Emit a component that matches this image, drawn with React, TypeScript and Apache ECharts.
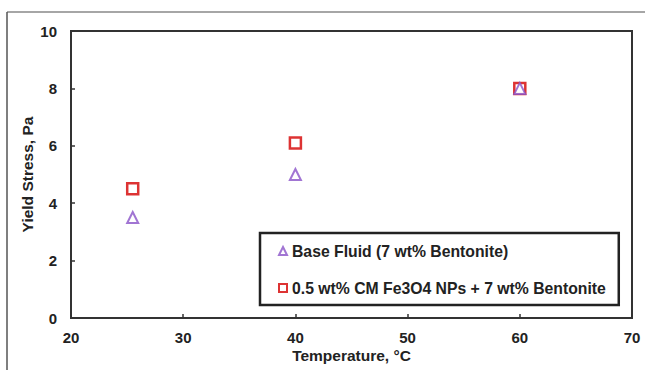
import React, { useEffect, useRef } from "react";
import * as echarts from "echarts";

const baseName = "Base Fluid (7 wt% Bentonite)";
const npName = "0.5 wt% CM Fe3O4 NPs + 7 wt% Bentonite";
const temperatures = [25.5, 40, 60];
const baseFluid = [3.5, 5.0, 8.0];
const nanoFluid = [4.5, 6.1, 8.0];

const FONT = "Liberation Sans, Arial, sans-serif";

export default function App() {
  const ref = useRef<HTMLDivElement>(null);
  useEffect(() => {
    if (!ref.current) return;
    const chart = echarts.init(ref.current, undefined, { renderer: "svg" });
    chart.setOption({
      animation: false,
      backgroundColor: "#ffffff",
      grid: {
        left: 71,
        right: 13,
        top: 31,
        bottom: 52,
        outerBoundsMode: "none",
        containLabel: false,
        show: true,
        borderColor: "#333",
        borderWidth: 2,
        backgroundColor: "transparent",
      },
      xAxis: {
        type: "value",
        min: 20,
        max: 70,
        interval: 10,
        name: "Temperature, °C",
        nameLocation: "middle",
        nameGap: 29,
        nameMoveOverlap: false,
        nameTextStyle: { fontFamily: FONT, fontWeight: "bold", fontSize: 15.5, color: "#222" },
        axisLine: { show: true, lineStyle: { color: "#333", width: 2 } },
        axisTick: { show: true, inside: true, length: 4, lineStyle: { color: "#333", width: 1.5 } },
        axisLabel: { fontFamily: FONT, fontWeight: "bold", fontSize: 15, color: "#222", margin: 12 },
        splitLine: { show: false },
      },
      yAxis: {
        type: "value",
        min: 0,
        max: 10,
        interval: 2,
        name: "Yield Stress, Pa",
        nameLocation: "middle",
        nameGap: 36,
        nameMoveOverlap: false,
        nameTextStyle: { fontFamily: FONT, fontWeight: "bold", fontSize: 15.5, color: "#222" },
        axisLine: { show: true, lineStyle: { color: "#333", width: 2 } },
        axisTick: { show: true, inside: true, length: 4, lineStyle: { color: "#333", width: 1.5 } },
        axisLabel: { fontFamily: FONT, fontWeight: "bold", fontSize: 15, color: "#222", margin: 14 },
        splitLine: { show: false },
      },
      legend: {
        orient: "vertical",
        left: 260,
        top: 233,
        data: [baseName, npName],
        itemWidth: 8,
        itemHeight: 8,
        itemGap: 21,
        padding: [10, 13, 9, 18],
        borderColor: "#222",
        borderWidth: 2.5,
        backgroundColor: "#fff",
        textStyle: { fontFamily: FONT, fontWeight: "bold", fontSize: 15.75, color: "#222" },
      },
      graphic: [
        { type: "line", shape: { x1: 7, y1: 12, x2: 645, y2: 12 }, style: { stroke: "#888", lineWidth: 1.5 } },
        { type: "line", shape: { x1: 7, y1: 12, x2: 7, y2: 370 }, style: { stroke: "#555", lineWidth: 1.5 } },
      ],
      series: [
        {
          name: npName,
          type: "scatter",
          symbol: "rect",
          symbolSize: 11,
          z: 2,
          itemStyle: { color: "#fff", borderColor: "#d40000", borderWidth: 2.5 },
          data: temperatures.map((t, i) => [t, nanoFluid[i]]),
        },
        {
          name: baseName,
          type: "scatter",
          symbol: "triangle",
          symbolSize: 11,
          z: 3,
          itemStyle: { color: "#fff", borderColor: "#8a52c8", borderWidth: 2 },
          data: temperatures.map((t, i) => [t, baseFluid[i]]),
        },
      ],
    });
    return () => chart.dispose();
  }, []);
  return <div ref={ref} style={{ width: 645, height: 370, position: "absolute", left: 0, top: 0 }} />;
}
